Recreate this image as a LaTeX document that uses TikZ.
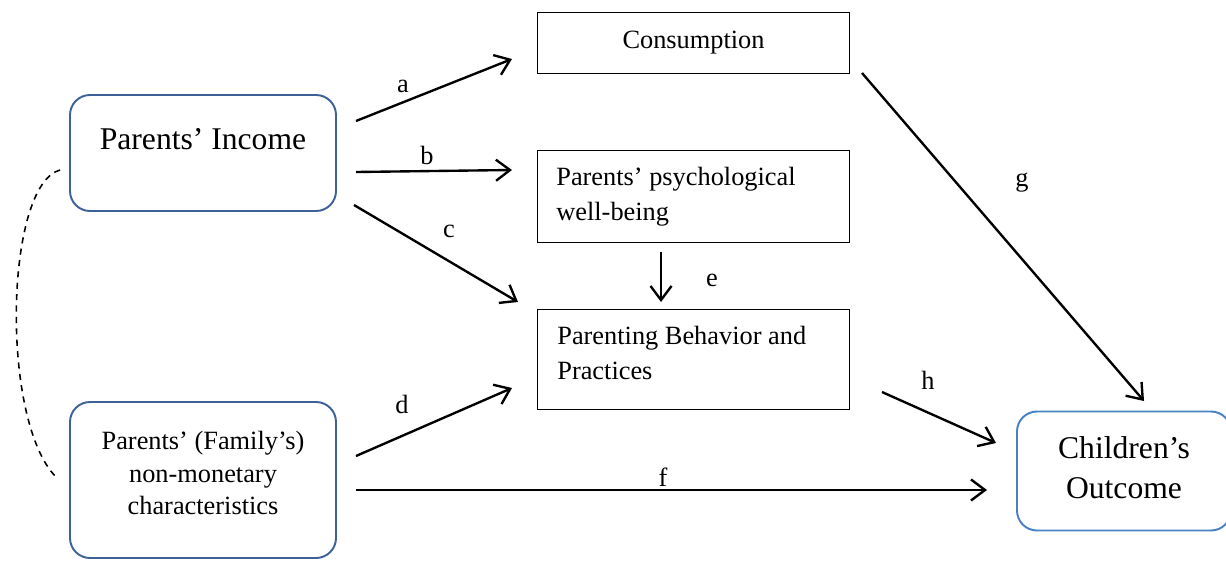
\documentclass[tikz,border=0pt]{standalone}
\usepackage{fontspec}
\setmainfont{Liberation Serif}
\usetikzlibrary{arrows.meta}

\definecolor{boxblue}{RGB}{62,98,152}
\definecolor{lightblue}{RGB}{72,128,196}

\begin{document}
\begin{tikzpicture}[
    x=0.02cm, y=-0.02cm,
    >={Straight Barb[length=8pt, width=12pt]}, % open arrow heads
    sqbox/.style={draw=black, line width=0.6pt, minimum width=312*0.02cm, anchor=north west, inner sep=0pt},
    rbox/.style={draw=boxblue, line width=1.1pt, rounded corners=0.4cm, minimum width=266*0.02cm, inner sep=0pt},
    arr/.style={->, line width=1.35pt},
    lbl/.style={font=\fontsize{15}{18}\selectfont, inner sep=0pt}
]
\useasboundingbox (0,0) rectangle (1226,561);

% Boxes on the left (rounded)
\node[rbox, minimum height=116*0.02cm] (inc) at (203,153) {};
\node[font=\fontsize{18}{22}\selectfont] at (203,139) {Parents’ Income};
\node[rbox, minimum height=156*0.02cm] (nonmon) at (203,480) {};
\node[align=center, font=\fontsize{15}{18.7}\selectfont] at (203,473)
    {Parents’ (Family’s)\\non-monetary\\characteristics};

% Boxes in the middle
\node[sqbox, minimum height=61*0.02cm] (cons) at (537,12) {};
\node[lbl] at (cons.center) {Consumption};
\node[sqbox, minimum height=92*0.02cm] (psych) at (537,150) {};
\node[lbl, anchor=north west, align=left, font=\fontsize{15}{20}\selectfont] at (556,167) {Parents’ psychological\\well-being};
\node[sqbox, minimum height=100*0.02cm] (parent) at (537,309) {};
\node[lbl, anchor=north west, align=left, font=\fontsize{15}{20}\selectfont] at (557,326) {Parenting Behavior and\\Practices};

% Box on the right
\node[rbox, draw=lightblue, minimum width=214*0.02cm, minimum height=119*0.02cm] (child) at (1124,471) {};
\node[align=center, font=\fontsize{18}{22.7}\selectfont] at (1124,468) {Children’s\\Outcome};

% Free ends of the arrows
\coordinate (a1) at (356,121); \coordinate (a2) at (512,59);
\coordinate (b1) at (356,172); \coordinate (b2) at (512,170);
\coordinate (c1) at (354,205); \coordinate (c2) at (518,302);
\coordinate (d1) at (356,456); \coordinate (d2) at (512,388);
\coordinate (e1) at (661,252); \coordinate (e2) at (661,302);
\coordinate (f1) at (356,490); \coordinate (f2) at (987,490);
\coordinate (g1) at (862,73);  \coordinate (g2) at (1144,401);
\coordinate (h1) at (882,392); \coordinate (h2) at (996,443);

% Arrows
\draw[arr] (a1) -- (a2);
\draw[arr] (b1) -- (b2);
\draw[arr] (c1) -- (c2);
\draw[arr] (d1) -- (d2);
\draw[arr] (e1) -- (e2);
\draw[arr] (f1) -- (f2);
\draw[arr] (g1) -- (g2);
\draw[arr] (h1) -- (h2);

% Arrow labels
\node[lbl] at (403,86) {a};
\node[lbl] at (427,155) {b};
\node[lbl] at (449,231) {c};
\node[lbl] at (402,404) {d};
\node[lbl] at (712,280) {e};
\node[lbl] at (663,477) {f};
\node[lbl] at (1022,183) {g};
\node[lbl] at (928,380) {h};

% Dashed link between the two left boxes
\coordinate (l1) at (60,170);
\coordinate (l2) at (56,477);
\draw[dash pattern=on 3.5pt off 3pt, line width=0.9pt] (l1) .. controls (5,185) and (0,420) .. (l2);

\end{tikzpicture}
\end{document}
